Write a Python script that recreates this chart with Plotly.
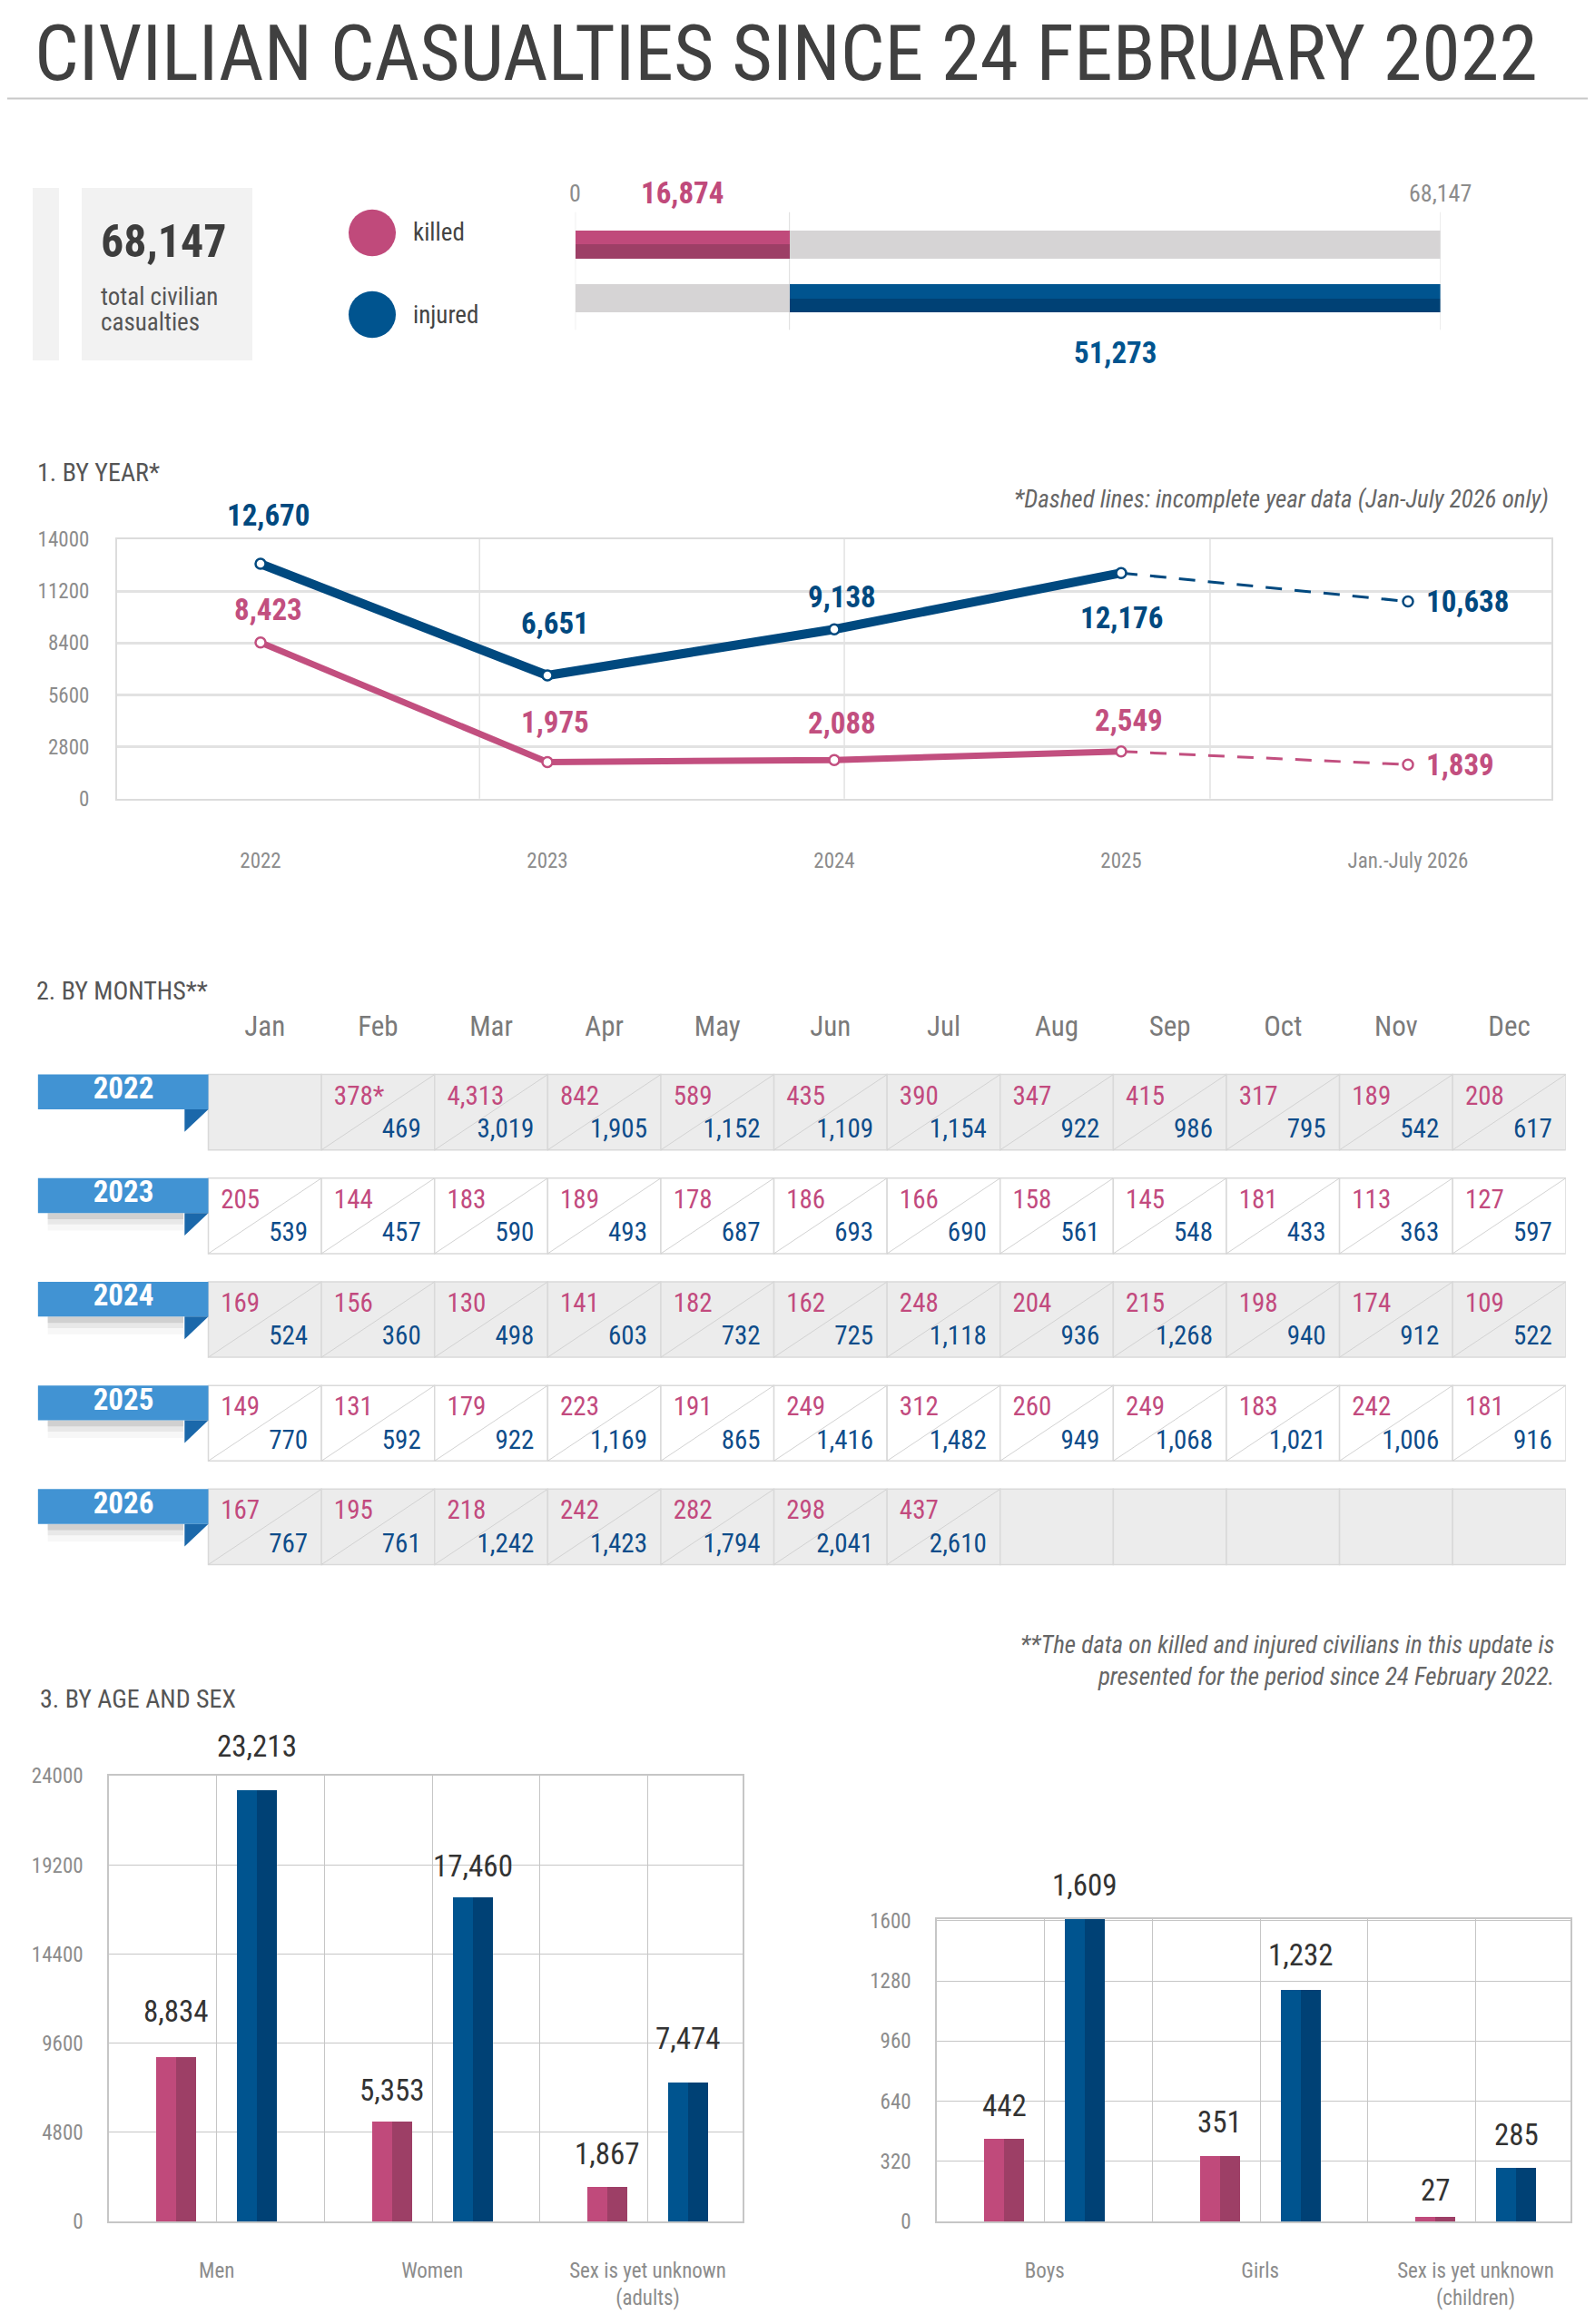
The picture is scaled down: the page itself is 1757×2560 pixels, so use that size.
import plotly.graph_objects as go

# page geometry (pixels of the final picture)
W, H = 1757, 2560
FONT = "Roboto Condensed, Liberation Sans Narrow, DejaVu Sans Condensed, Roboto, sans-serif"


def px(x):
    return x / W


def py(y):
    return 1 - y / H


# ── Data ───────────────────────────────────────────────────────────────────
TOTAL = 68147
TOTAL_KILLED = 16874
TOTAL_INJURED = 51273

YEARS = ["2022", "2023", "2024", "2025", "Jan.-July 2026"]
year_killed = [8423, 1975, 2088, 2549, 1839]
year_injured = [12670, 6651, 9138, 12176, 10638]

MONTHS = ["Jan", "Feb", "Mar", "Apr", "May", "Jun",
          "Jul", "Aug", "Sep", "Oct", "Nov", "Dec"]
TABLE_YEARS = ["2022", "2023", "2024", "2025", "2026"]
killed_2022 = [None, 378, 4313, 842, 589, 435, 390, 347, 415, 317, 189, 208]
injured_2022 = [None, 469, 3019, 1905, 1152, 1109, 1154, 922, 986, 795, 542, 617]
killed_2023 = [205, 144, 183, 189, 178, 186, 166, 158, 145, 181, 113, 127]
injured_2023 = [539, 457, 590, 493, 687, 693, 690, 561, 548, 433, 363, 597]
killed_2024 = [169, 156, 130, 141, 182, 162, 248, 204, 215, 198, 174, 109]
injured_2024 = [524, 360, 498, 603, 732, 725, 1118, 936, 1268, 940, 912, 522]
killed_2025 = [149, 131, 179, 223, 191, 249, 312, 260, 249, 183, 242, 181]
injured_2025 = [770, 592, 922, 1169, 865, 1416, 1482, 949, 1068, 1021, 1006, 916]
killed_2026 = [167, 195, 218, 242, 282, 298, 437, None, None, None, None, None]
injured_2026 = [767, 761, 1242, 1423, 1794, 2041, 2610, None, None, None, None, None]
FOOTNOTE_CELLS = [(0, 1)]   # Feb 2022 gets a '*'

adult_cats = ["Men", "Women", "Sex is yet unknown<br>(adults)"]
adult_killed = [8834, 5353, 1867]
adult_injured = [23213, 17460, 7474]

child_cats = ["Boys", "Girls", "Sex is yet unknown<br>(children)"]
child_killed = [442, 351, 27]
child_injured = [1609, 1232, 285]

# ── Colours ────────────────────────────────────────────────────────────────
PINK, PINK_DARK = "#c04a7b", "#9d3f66"
BLUE, BLUE_DARK = "#00548f", "#004175"
GRAY_BAR = "#d6d4d5"
LINE_BLUE, LINE_PINK = "#00497f", "#c24f7f"
TXT_PINK, TXT_BLUE = "#c24a7e", "#0e4c8a"
TICK = "#8c8c8c"
LABEL = "#555555"
RIBBON, RIBBON_FOLD = "#4193d3", "#1b68aa"

fig = go.Figure()
shapes = []
annots = []


def note(text, x, y, size, color=LABEL, xanchor="left", yanchor="middle", **kw):
    annots.append(dict(text=text, x=px(x), y=py(y), xref="paper", yref="paper",
                       xanchor=xanchor, yanchor=yanchor, showarrow=False,
                       font=dict(family=FONT, size=size, color=color), **kw))


# ── Header ─────────────────────────────────────────────────────────────────
note("CIVILIAN CASUALTIES SINCE 24 FEBRUARY 2022", 28, -15, 86, color="#404040",
     yanchor="top")
shapes.append(dict(type="line", xref="paper", yref="paper",
                   x0=0, x1=1, y0=py(88.5), y1=py(88.5),
                   line=dict(color="#c8c8c8", width=2)))

# total box
for x0, x1 in [(28, 57), (82, 270)]:
    shapes.append(dict(type="rect", xref="paper", yref="paper", layer="below",
                       x0=px(x0), x1=px(x1), y0=py(380), y1=py(188),
                       fillcolor="#f2f2f2", line_width=0))
note(f"<b>{TOTAL:,}</b>", 101, 248, 50, color="#3d3d3d")
note("total civilian", 101, 309, 27)
note("casualties", 101, 338, 27)

# legend circles
for cy, col, lab in [(238, PINK, "killed"), (329, BLUE, "injured")]:
    shapes.append(dict(type="circle", xref="paper", yref="paper",
                       x0=px(402 - 26), x1=px(402 + 26), y0=py(cy + 26), y1=py(cy - 26),
                       fillcolor=col, line_width=0))
    note(lab, 445, cy, 27, color="#444444")

# top split bars
HALF = 0.26
top_bars = [
    # (value, row, base, offset, width, colour)
    (TOTAL_KILLED, 1, 0, 0, HALF, PINK),
    (TOTAL_KILLED, 1, 0, -HALF, HALF, PINK_DARK),
    (TOTAL_INJURED, 1, TOTAL_KILLED, -HALF, 2 * HALF, GRAY_BAR),
    (TOTAL_KILLED, 0, 0, -HALF, 2 * HALF, GRAY_BAR),
    (TOTAL_INJURED, 0, TOTAL_KILLED, 0, HALF, BLUE),
    (TOTAL_INJURED, 0, TOTAL_KILLED, -HALF, HALF, BLUE_DARK),
]
for v, row, base, off, wd, col in top_bars:
    fig.add_trace(go.Bar(x=[v], y=[row], base=[base], orientation="h",
                         width=wd, offset=off, marker=dict(color=col, line_width=0),
                         xaxis="x", yaxis="y", hoverinfo="skip"))
for xv in [0, TOTAL_KILLED, TOTAL]:
    shapes.append(dict(type="line", xref="x", yref="paper", layer="below",
                       x0=xv, x1=xv, y0=py(346), y1=py(215),
                       line=dict(color="#dddddd", width=1)))
annots += [
    dict(text="0", x=0, y=py(194), xref="x", yref="paper", showarrow=False,
         yanchor="middle", font=dict(family=FONT, size=26, color=TICK)),
    dict(text=f"{TOTAL:,}", x=TOTAL, y=py(194), xref="x", yref="paper", showarrow=False,
         yanchor="middle", font=dict(family=FONT, size=26, color=TICK)),
    dict(text=f"<b>{TOTAL_KILLED:,}</b>", x=TOTAL_KILLED / 2, y=py(194), xref="x",
         yref="paper", showarrow=False, yanchor="middle",
         font=dict(family=FONT, size=33, color=PINK)),
    dict(text=f"<b>{TOTAL_INJURED:,}</b>", x=TOTAL_KILLED + TOTAL_INJURED / 2, y=py(371),
         xref="x", yref="paper", showarrow=False, yanchor="middle",
         font=dict(family=FONT, size=33, color=BLUE)),
]

# ── 1. By year ─────────────────────────────────────────────────────────────
note("1. BY YEAR*", 31, 505, 28)
note("<i>*Dashed lines: incomplete year data (Jan-July 2026 only)</i>", 1700, 535, 27,
     color="#666666", xanchor="right")

xi = list(range(len(YEARS)))
for vals, col, w in [(year_injured, LINE_BLUE, 10), (year_killed, LINE_PINK, 7)]:
    fig.add_trace(go.Scatter(x=xi[:4], y=vals[:4], mode="lines",
                             line=dict(color=col, width=w),
                             xaxis="x2", yaxis="y2", hoverinfo="skip"))
    fig.add_trace(go.Scatter(x=xi[3:], y=vals[3:], mode="lines",
                             line=dict(color=col, width=3, dash="18px,14px"),
                             xaxis="x2", yaxis="y2", hoverinfo="skip"))
    fig.add_trace(go.Scatter(x=xi, y=vals, mode="markers",
                             marker=dict(size=11, color="white",
                                         line=dict(color=col, width=2.5)),
                             xaxis="x2", yaxis="y2", hoverinfo="skip"))

# label placement per point: (where, distance in px)
inj_place = [("top", 54), ("top", 57), ("top", 36), ("bottom", 49), ("right", 18)]
kil_place = [("top", 36), ("top", 44), ("top", 41), ("top", 34), ("right", 18)]
for vals, place, col in [(year_injured, inj_place, LINE_BLUE),
                         (year_killed, kil_place, LINE_PINK)]:
    for i, v in enumerate(vals):
        where, d = place[i]
        a = dict(text=f"<b>{v:,}</b>", x=i, y=v, xref="x2", yref="y2", showarrow=False,
                 font=dict(family=FONT, size=33, color=col))
        if where == "top":
            a.update(yshift=d, xshift=8)
        elif where == "bottom":
            a.update(yshift=-d)
        else:
            a.update(xshift=d, xanchor="left")
        annots.append(a)

for fx in [0.2527, 0.507, 0.762]:
    shapes.append(dict(type="line", xref="x2 domain", yref="y2 domain", layer="below",
                       x0=fx, x1=fx, y0=0, y1=1,
                       line=dict(color="#e2e2e2", width=1.5)))

# ── 2. By months ───────────────────────────────────────────────────────────
note("2. BY MONTHS**", 30, 1082, 28)

table_killed = [killed_2022, killed_2023, killed_2024, killed_2025, killed_2026]
table_injured = [injured_2022, injured_2023, injured_2024, injured_2025, injured_2026]
ROW_TOP, ROW_PITCH, ROW_H = 1175, 115.4, 0.728

fig.add_trace(go.Scatter(x=[c + 0.5 for c in range(12)],
                         y=[(ROW_TOP - 1123.6) / ROW_PITCH] * 12, text=MONTHS,
                         mode="text", textposition="middle center",
                         textfont=dict(family=FONT, size=31, color="#7a7a7a"),
                         xaxis="x3", yaxis="y3", hoverinfo="skip"))

kx, ky, kt, jx, jy, jt = [], [], [], [], [], []
for r in range(len(TABLE_YEARS)):
    top = -r
    fill = "#ececec" if r % 2 == 0 else "white"
    for c in range(12):
        shapes.append(dict(type="rect", xref="x3", yref="y3", layer="below",
                           x0=c, x1=c + 1, y0=top - ROW_H, y1=top,
                           fillcolor=fill, line=dict(color="#d9d9d9", width=1.5)))
        k, j = table_killed[r][c], table_injured[r][c]
        if k is None:
            continue
        shapes.append(dict(type="line", xref="x3", yref="y3", layer="below",
                           x0=c, x1=c + 1, y0=top - ROW_H, y1=top,
                           line=dict(color="#d2d2d2", width=1)))
        kx.append(c + 0.11)
        ky.append(top - 0.226)
        kt.append(f"{k:,}" + ("*" if (r, c) in FOOTNOTE_CELLS else ""))
        jx.append(c + 0.88)
        jy.append(top - 0.545)
        jt.append(f"{j:,}")

    # year ribbon
    if r > 0:
        for dy, op in [(0.06, 0.10), (0.11, 0.06), (0.17, 0.03)]:
            shapes.append(dict(type="rect", xref="x3", yref="y3", layer="below",
                               x0=-1.42, x1=-0.22, y0=top - 0.336 - dy, y1=top - 0.336,
                               fillcolor=f"rgba(0,0,0,{op})", line_width=0))
    shapes.append(dict(type="rect", xref="x3", yref="y3", layer="below",
                       x0=-1.508, x1=0, y0=top - 0.336, y1=top,
                       fillcolor=RIBBON, line_width=0))
    shapes.append(dict(type="path", xref="x3", yref="y3", layer="below",
                       path=f"M -0.21,{top - 0.336} L 0,{top - 0.336} L -0.21,{top - 0.554} Z",
                       fillcolor=RIBBON_FOLD, line_width=0))

fig.add_trace(go.Scatter(x=kx, y=ky, text=kt, mode="text", textposition="middle right",
                         textfont=dict(family=FONT, size=29, color=TXT_PINK),
                         xaxis="x3", yaxis="y3", hoverinfo="skip"))
fig.add_trace(go.Scatter(x=jx, y=jy, text=jt, mode="text", textposition="middle left",
                         textfont=dict(family=FONT, size=29, color=TXT_BLUE),
                         xaxis="x3", yaxis="y3", hoverinfo="skip"))
fig.add_trace(go.Scatter(x=[-0.75] * len(TABLE_YEARS),
                         y=[-r - 0.16 for r in range(len(TABLE_YEARS))],
                         text=[f"<b>{y}</b>" for y in TABLE_YEARS], mode="text",
                         textposition="middle center",
                         textfont=dict(family=FONT, size=33, color="white"),
                         xaxis="x3", yaxis="y3", hoverinfo="skip"))

# ── 3. By age and sex ──────────────────────────────────────────────────────
note("<i>**The data on killed and injured civilians in this update is<br>"
     "presented for the period since 24 February 2022.</i>", 1707, 1828, 27,
     color="#666666", xanchor="right", align="right")
note("3. BY AGE AND SEX", 34, 1870, 28)

BW = 0.0925   # half bar width (category units)
adult_shift = [[51, 49], [35, 35], [36, 49]]
child_shift = [[36, 37], [37, 38], [29, 37]]
for xa, ya, killed, injured, shift in [("x4", "y4", adult_killed, adult_injured, adult_shift),
                                       ("x5", "y5", child_killed, child_injured, child_shift)]:
    pos = list(range(len(killed)))
    for vals, off, c1, c2 in [(killed, -0.28, PINK, PINK_DARK),
                              (injured, 0.095, BLUE, BLUE_DARK)]:
        fig.add_trace(go.Bar(x=pos, y=vals, width=BW, offset=off,
                             marker=dict(color=c1, line_width=0), cliponaxis=False,
                             xaxis=xa, yaxis=ya, hoverinfo="skip"))
        fig.add_trace(go.Bar(x=pos, y=vals, width=BW, offset=off + BW,
                             marker=dict(color=c2, line_width=0), cliponaxis=False,
                             xaxis=xa, yaxis=ya, hoverinfo="skip"))
    for i in pos:
        for k, (v, off) in enumerate([(killed[i], -0.28), (injured[i], 0.095)]):
            annots.append(dict(text=f"{v:,}", x=i + off + BW, y=v, xref=xa, yref=ya,
                               showarrow=False, yshift=shift[i][k],
                               font=dict(family=FONT, size=33, color="#333333")))

tick_font = dict(family=FONT, size=23, color=TICK)


def bar_xaxis(dom, cats, anchor):
    return dict(domain=dom, range=[-0.5, 2.44], tickvals=[0, 0.5, 1, 1.5, 2],
                ticktext=[cats[0], "", cats[1], "", cats[2]], showgrid=True,
                gridcolor="#c6c6c6", gridwidth=1, showline=True, mirror=True,
                linecolor="#c6c6c6", linewidth=1.5, zeroline=False, ticks="",
                ticklabelstandoff=33, tickfont=tick_font, anchor=anchor, fixedrange=True)


def bar_yaxis(dom, top, step, anchor):
    return dict(domain=dom, range=[0, top], dtick=step, tick0=0, tickformat="d",
                showgrid=True, gridcolor="#c6c6c6", gridwidth=1, showline=True,
                mirror=True, linecolor="#c6c6c6", linewidth=1.5, zeroline=False,
                ticks="", ticklabelstandoff=22, tickfont=tick_font, anchor=anchor,
                fixedrange=True)


fig.update_layout(
    width=W, height=H, margin=dict(l=0, r=0, t=0, b=0),
    paper_bgcolor="white", plot_bgcolor="white",
    showlegend=False, barmode="overlay", bargap=0,
    font=dict(family=FONT),
    xaxis=dict(domain=[px(625.7), px(1578.6)], range=[0, TOTAL], visible=False,
               anchor="y", fixedrange=True),
    yaxis=dict(domain=[py(370), py(190)], range=[-0.98, 2.015], visible=False,
               anchor="x", fixedrange=True),
    xaxis2=dict(domain=[px(121), px(1701)], range=[-0.5, 4.5], tickvals=xi,
                ticktext=YEARS, showgrid=False, showline=True, mirror=True,
                linecolor="#dcdcdc", linewidth=2, zeroline=False, ticks="",
                ticklabelstandoff=47, tickfont=tick_font, anchor="y2", fixedrange=True),
    yaxis2=dict(domain=[py(868), py(579)], range=[0, 14000], dtick=2800, tick0=0,
                tickformat="d", showgrid=True, gridcolor="#e2e2e2", gridwidth=2.5,
                showline=True, mirror=True, linecolor="#dcdcdc", linewidth=2,
                zeroline=False, ticks="", ticklabelstandoff=24, tickfont=tick_font,
                anchor="x2", fixedrange=True),
    xaxis3=dict(domain=[px(33.6), px(1716.8)], range=[-1.508, 12], visible=False,
                anchor="y3", fixedrange=True),
    yaxis3=dict(domain=[py(ROW_TOP + 4.8 * ROW_PITCH), py(ROW_TOP - 0.6 * ROW_PITCH)],
                range=[-4.8, 0.6], visible=False, anchor="x3", fixedrange=True),
    xaxis4=bar_xaxis([px(112), px(810)], adult_cats, "y4"),
    yaxis4=bar_yaxis([py(2452), py(1956)], 24000, 4800, "x4"),
    xaxis5=bar_xaxis([px(1024), px(1722)], child_cats, "y5"),
    # range a touch above 1600 so the 1,609 bar and its label stay visible
    yaxis5=bar_yaxis([py(2452), py(2115)], 1610, 320, "x5"),
    shapes=shapes,
    annotations=annots,
)

fig.write_html("out.html")
